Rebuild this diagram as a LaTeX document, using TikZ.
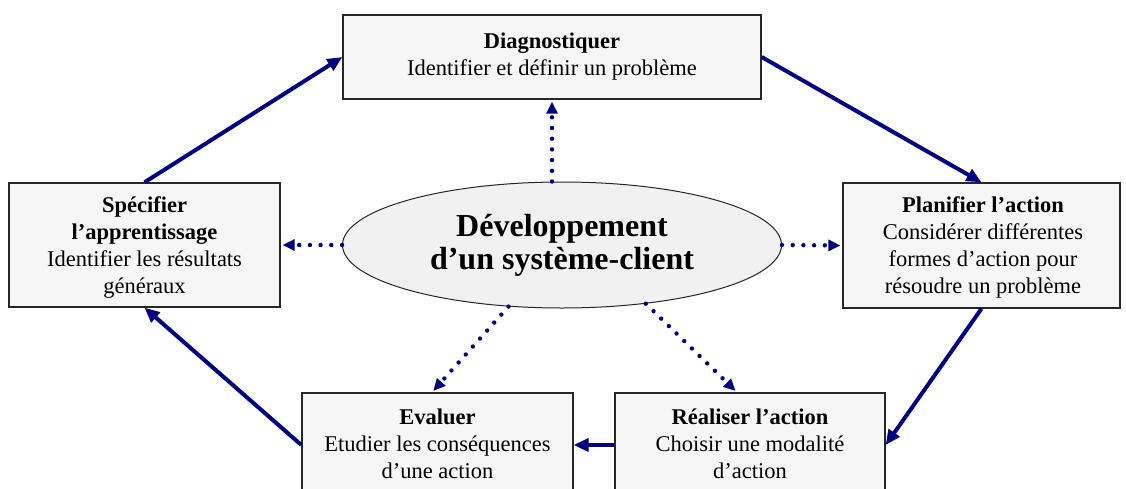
\documentclass[tikz,border=0pt]{standalone}
\usepackage{fontspec}
\setmainfont{Liberation Serif}
\usetikzlibrary{arrows.meta,shapes.geometric}
\definecolor{navyb}{RGB}{0,0,128}
\definecolor{boxfill}{RGB}{246,246,246}
\definecolor{ellfill}{RGB}{241,241,241}
\begin{document}
\begin{tikzpicture}[x=1pt,y=-1pt,
  box/.style={draw=black!85, line width=1.3pt, fill=boxfill, rectangle, inner sep=0pt},
  txt/.style={align=center, font=\fontsize{22.5}{27}\selectfont, inner sep=0pt},
  ellnode/.style={draw=black!85, line width=1pt, fill=ellfill, ellipse, inner sep=0pt, align=center,
    font=\fontsize{32}{33}\selectfont\bfseries},
  flow/.style={draw=navyb, line width=4pt, -{Triangle[length=15pt,width=13pt]}},
  dotflow/.style={draw=navyb, line width=4.4pt, line cap=round, dash pattern=on 0pt off 10.7pt,
    -{Triangle[length=12pt,width=11pt]}, shorten >=2pt}]
\useasboundingbox (0,0) rectangle (1126,488);
\clip (0,0) rectangle (1126,488);
\fill[white] (0,0) rectangle (1126,488);

% boxes
\node[box, minimum width=418pt, minimum height=84pt] (diag) at (552,57) {};
\node[txt] (diagt) at (552,56.5) {\textbf{Diagnostiquer}\\Identifier et définir un problème};

\node[box, minimum width=271pt, minimum height=124pt] (spec) at (144.5,245) {};
\node[txt] (spect) at (144.5,247) {\textbf{Spécifier}\\\textbf{l’apprentissage}\\Identifier les résultats\\généraux};

\node[box, minimum width=277pt, minimum height=125pt] (plan) at (981.5,245.5) {};
\node[txt] (plant) at (983,247) {\textbf{Planifier l’action}\\Considérer différentes\\formes d’action pour\\résoudre un problème};

\node[box, minimum width=271pt, minimum height=104pt] (eval) at (437.5,445) {};
\node[txt] (evalt) at (437.5,444) {\textbf{Evaluer}\\Etudier les conséquences\\d’une action};

\node[box, minimum width=270pt, minimum height=104pt] (real) at (750,445) {};
\node[txt] (realt) at (750,444) {\textbf{Réaliser l’action}\\Choisir une modalité\\d’action};

% centre
\node[ellnode, minimum width=439pt, minimum height=126pt] (ell) at (562,245)
  {Développement\\d’un système-client};

% cycle arrows
\draw[flow] (spec.north) -- (diag.west);
\draw[flow] (diag.east) -- (plan.north);
\draw[flow] (plan.south) -- (real.east);
\draw[flow] (real.west) -- (eval.east);
\draw[flow] (eval.west) -- (spec.south);

% dotted arrows from centre
\draw[dotflow] (ell.north -| diag.south) -- (diag.south);
\draw[dotflow] (ell.west) -- (spec.east);
\draw[dotflow] (ell.east) -- (plan.west);
\draw[dotflow] (ell.229.5) -- ([xshift=-5.5pt]eval.north);
\draw[dotflow] (ell.325) -- ([xshift=-13pt]real.north);
\end{tikzpicture}
\end{document}
